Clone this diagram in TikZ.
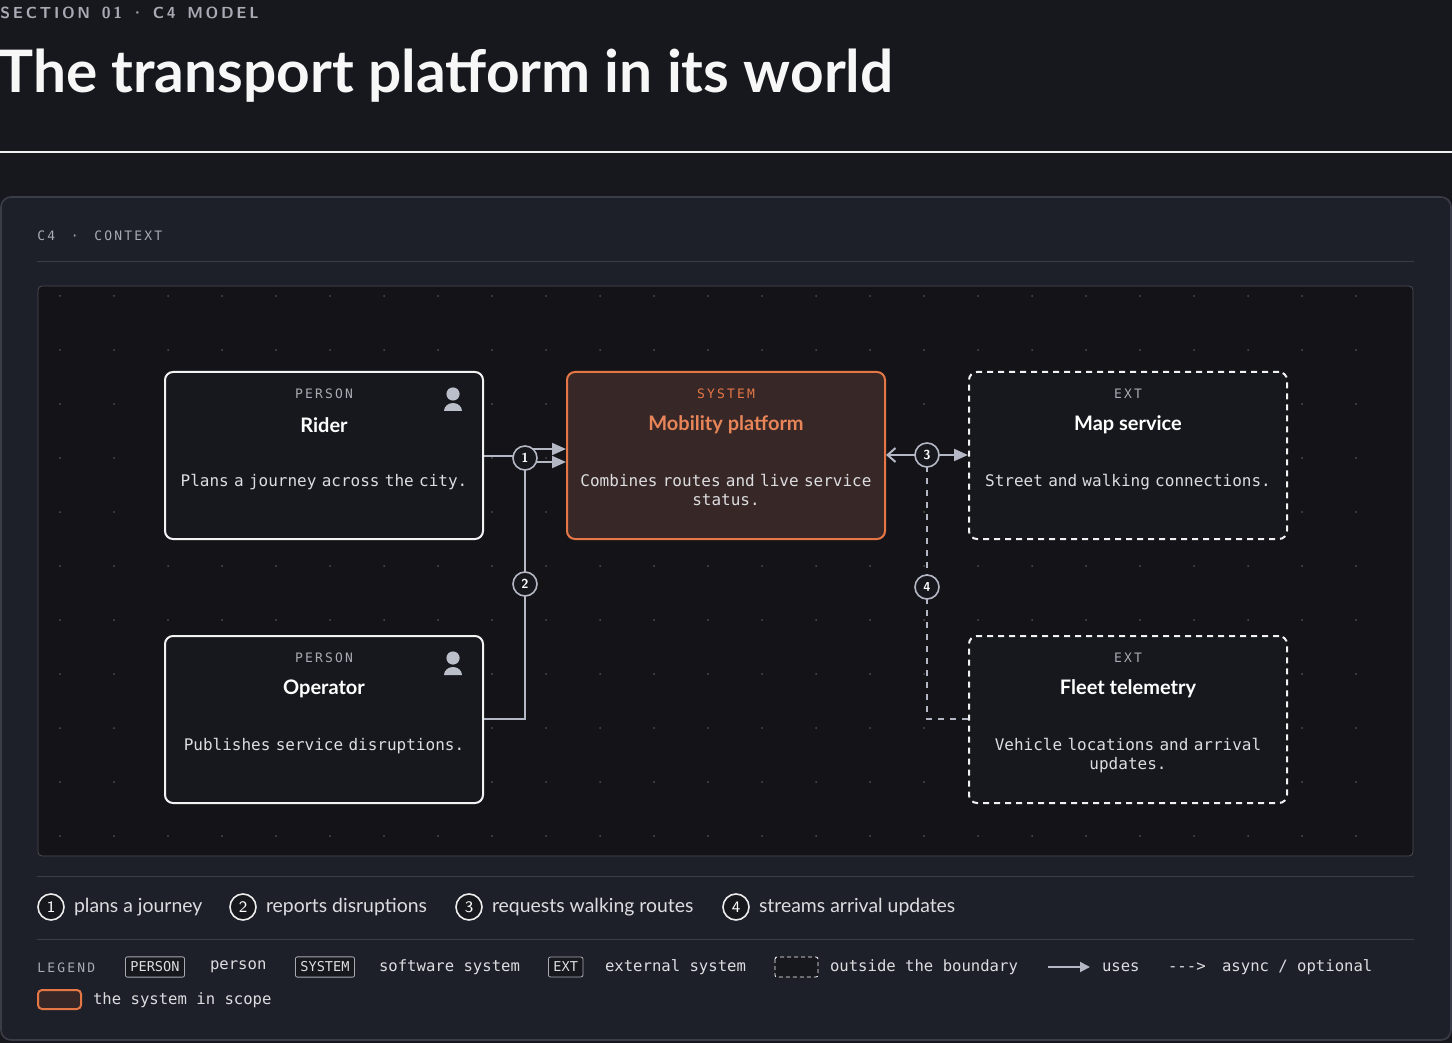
\documentclass[tikz,border=0pt]{standalone}
\usepackage{fontspec}
\setmainfont{Lato}
\setmonofont{DejaVu Sans Mono}
\usetikzlibrary{arrows.meta,calc}
\definecolor{bg}{HTML}{17181D}
\definecolor{panel}{HTML}{1E2029}
\definecolor{panelb}{HTML}{3A3D48}
\definecolor{canvas}{HTML}{141418}
\definecolor{mut}{HTML}{A8ABB4}
\definecolor{txt}{HTML}{DCDDE0}
\definecolor{wire}{HTML}{B4B8C4}
\definecolor{org}{HTML}{E57746}
\definecolor{orgfill}{HTML}{382727}
\tikzset{
 box/.style={draw=white!90!gray,line width=1pt,rounded corners=4pt,fill=bg,minimum width=159pt,minimum height=83.5pt,inner sep=0pt},
 ext/.style={box,dashed,dash pattern=on 3pt off 2.5pt},
 sys/.style={box,draw=org,fill=orgfill},
 kind/.style={font=\ttfamily\fontsize{6.5}{8}\selectfont,text=mut},
 ttl/.style={font=\bfseries\fontsize{10}{12}\selectfont,text=white},
 desc/.style={font=\ttfamily\fontsize{8}{9.8}\selectfont,text=txt,align=center},
 wire/.style={draw=wire,line width=1pt},
 icon/.style={fill=wire!90!white},
 num/.style={circle,draw=wire,line width=0.8pt,fill=bg,minimum size=12pt,inner sep=0pt,text=white,font=\sffamily\bfseries\fontsize{6.5}{7}\selectfont},
 lnum/.style={num,minimum size=13pt,draw=white!85!gray,font=\sffamily\fontsize{8}{9}\selectfont},
 ltxt/.style={anchor=west,text=txt,font=\fontsize{9.7}{11}\selectfont},
 lmono/.style={anchor=west,text=txt,font=\ttfamily\fontsize{7.8}{9}\selectfont},
 tag/.style={draw=mut,rounded corners=1pt,fill=bg,text=txt,font=\ttfamily\fontsize{6.8}{8}\selectfont,inner sep=2.5pt,anchor=west},
}
\newcommand{\personicon}[1]{\fill[icon] ($(#1)+(0,-4)$) circle (3.3pt);
 \fill[icon] ($(#1)+(-9,13)$) arc (180:360:9 and 8) -- cycle;}
\begin{document}
\begin{tikzpicture}[x=0.5pt,y=-0.5pt]
\fill[bg] (0,0) rectangle (1452,1043);
\useasboundingbox (0,0) rectangle (1452,1043);
\node[anchor=west,text=mut,font=\sffamily\bfseries\fontsize{8}{9}\selectfont,inner sep=0] (sec) at (0,13) {S\,E\,C\,T\,I\,O\,N\ \ 0\,1\ \,·\ \,C\,4\ \ M\,O\,D\,E\,L};
\node[anchor=west,text=white!94!gray,font=\bfseries\fontsize{29.3}{32}\selectfont,inner sep=0] (title) at (-2,76) {The transport platform in its world};
\draw[white!90!gray,line width=1pt] (0,152) -- (1452,152);
\draw[panelb,fill=panel,rounded corners=5pt,line width=0.8pt] (1,197) rectangle (1451,1040);
\node[anchor=west,kind,inner sep=0] (c4) at (37,236) {C\,4\ \ ·\ \ C\,O\,N\,T\,E\,X\,T};
\draw[panelb,line width=0.5pt] (37,262) -- (1414,262);
\draw[fill=canvas,draw=panel!80!white,rounded corners=2pt] (38,286) rectangle (1413,856);
\foreach \x in {60,114,...,1400} \foreach \y in {296,350,...,850} \fill[white!25!canvas] (\x,\y) circle (0.5pt);
\node[box] (rider) at (324,455.5) {};
\node[box] (oper) at (324,719.5) {};
\node[sys] (mob) at (726,455.5) {};
\node[ext] (map) at (1128,455.5) {};
\node[ext] (fleet) at (1128,719.5) {};
\foreach \n/\k/\t/\d in {rider/P\,E\,R\,S\,O\,N/Rider/Plans a journey across the city.,
 oper/P\,E\,R\,S\,O\,N/Operator/Publishes service disruptions.,
 map/E\,X\,T/Map service/Street and walking connections.,
 fleet/E\,X\,T/Fleet telemetry/{Vehicle locations and arrival\\updates.}}{
 \node[kind] at ($(\n.north)+(0,23)$) {\k};
 \node[ttl] at ($(\n.north)+(0,54)$) {\t};
 \node[desc,text width=155pt,anchor=north] at ($(\n.north)+(0,96)$) {\d};}
\node[kind,text=org] at ($(mob.north)+(0,23)$) {S\,Y\,S\,T\,E\,M};
\node[ttl,text=org!90!white] at ($(mob.north)+(0,54)$) {Mobility platform};
\node[desc,text width=155pt,anchor=north] at ($(mob.north)+(0,96)$) {Combines routes and live service\\status.};
\personicon{453,398}
\personicon{453,662}
\coordinate (j1) at (525,456);
\coordinate (j2) at (525,719);
\coordinate (j3) at (927,455);
\coordinate (j4) at (927,719);
\draw[wire,-{Triangle[length=7pt,width=6pt]}] (rider.east |- j1) -- (j1) -- (525,449) -- (mob.west |- 0,449);
\draw[wire,-{Triangle[length=7pt,width=6pt]}] (oper.east |- j2) -- (j2) -- (525,462) -- (mob.west |- 0,462);
\draw[wire,{Straight Barb[length=4pt,width=7pt]}-{Triangle[length=7pt,width=6pt]}] (mob.east |- j3) -- (map.west |- j3);
\draw[wire,dashed,dash pattern=on 3pt off 3pt] (fleet.west |- j4) -- (j4) -- (j3);
\node[num] (n1) at (525,458) {1};
\node[num] (n2) at (525,584) {2};
\node[num] (n3) at (927,455) {3};
\node[num] (n4) at (927,587) {4};
\draw[panelb,line width=0.5pt] (37,876) -- (1414,876);
\draw[panelb,line width=0.5pt] (37,939) -- (1414,939);
\foreach \cx/\i/\t in {51/1/plans a journey,243/2/reports disruptions,469/3/requests walking routes,736/4/streams arrival updates}{
 \node[lnum] (l\i) at (\cx,907) {\i};
 \node[ltxt] at (\cx+16,907) {\t};}
\node[anchor=west,kind,inner sep=0] (lg) at (37,968) {L\,E\,G\,E\,N\,D};
\node[tag] (tp) at (125,967) {PERSON}; \node[lmono] at (203,967) {person};
\node[tag] (ts) at (295,967) {SYSTEM}; \node[lmono] at (372,967) {software system};
\node[tag] (te) at (548,967) {EXT}; \node[lmono] at (598,967) {external system};
\draw[white,fill=bg,dashed,dash pattern=on 2pt off 1.5pt,rounded corners=1pt] (775,957) rectangle (818,977);
\node[lmono] at (823,967) {outside the boundary};
\draw[wire,line width=1pt,-{Triangle[length=5pt,width=5pt]}] (1048,967) -- (1090,967);
\node[lmono] at (1095,967) {uses};
\node[lmono] at (1161,967) {-{}-{}->};
\node[lmono] at (1215,967) {async / optional};
\draw[org,fill=orgfill,line width=1pt,rounded corners=2pt] (38,990) rectangle (81,1009);
\node[lmono] at (86,1000) {the system in scope};
\end{tikzpicture}
\end{document}
